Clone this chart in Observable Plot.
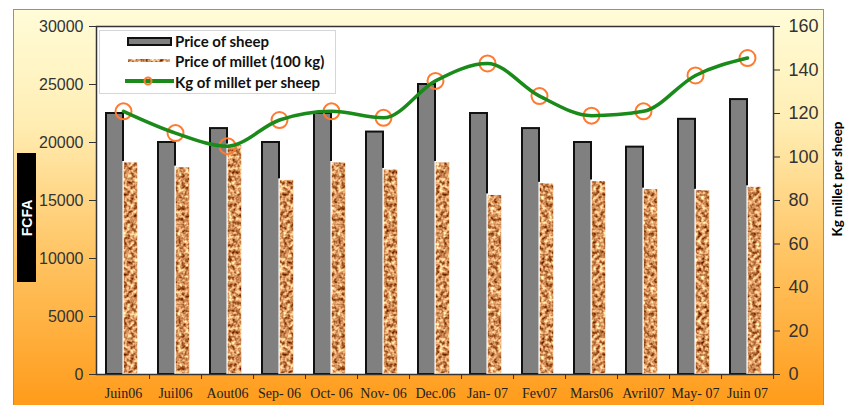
<!DOCTYPE html>
<html>
<head>
<meta charset="utf-8">
<script src="https://cdn.jsdelivr.net/npm/d3@7"></script>
<script src="https://cdn.jsdelivr.net/npm/@observablehq/plot@0.6"></script>
<style>
  html, body { margin: 0; padding: 0; background: #ffffff; }
  #wrap { position: relative; width: 853px; height: 405px; overflow: hidden; }
  #bg { position: absolute; left: 13px; top: 9px; width: 809px; height: 400px;
        border: 1px solid #a89060;
        background: linear-gradient(to bottom, #fffcd8 0%, #ffeeb4 28%, #ffc666 60%, #ff9a18 100%); }
  #chart { position: absolute; left: 0; top: 0; }
  #fcfa { position: absolute; left: 17px; top: 153px; width: 19px; height: 129px; background: #000; }
  #fcfa span { position: absolute; left: 50%; top: 50%; transform: translate(-50%, -50%) rotate(-90deg);
               color: #fff; font: bold 14px "Liberation Sans", Arial, sans-serif; white-space: nowrap; }
  #rlabel { position: absolute; left: 837px; top: 179px; transform: translate(-50%, -50%) rotate(-90deg);
            font: bold 13.5px Lato, "Liberation Sans", sans-serif; color: #000; white-space: nowrap; }
  #legend { position: absolute; left: 99px; top: 30px; width: 235px; height: 62px; background: #fff;
            border: 1px solid #d6d6d6; }
  .lrow { position: absolute; left: 75px; font: bold 15px Lato, "Liberation Sans", sans-serif; color: #111;
          white-space: nowrap; transform: translateY(-50%); }
  .lsw { position: absolute; }
</style>
</head>
<body>
<div id="wrap">
  <div id="bg"></div>
  <div id="chart"></div>
  <div id="fcfa"><span>FCFA</span></div>
  <div id="rlabel">Kg millet per sheep</div>
  <div id="legend">
    <svg class="lsw" style="left:26px;top:5px" width="48" height="12">
      <rect x="2" y="2" width="43" height="7" fill="#808080" stroke="#111" stroke-width="2"></rect>
    </svg>
    <div class="lrow" style="top:10px">Price of sheep</div>
    <svg class="lsw" style="left:27px;top:27px" width="46" height="6">
      <rect x="1" y="1" width="42" height="3" fill="url(#cork)"></rect>
    </svg>
    <div class="lrow" style="top:30px">Price of millet (100 kg)</div>
    <svg class="lsw" style="left:24px;top:44px" width="52" height="12">
      <line x1="1" y1="6" x2="50" y2="6" stroke="#1a8a1a" stroke-width="4"></line>
      <circle cx="24" cy="6" r="3.5" fill="none" stroke="#ff7a30" stroke-width="2"></circle>
    </svg>
    <div class="lrow" style="top:51px">Kg of millet per sheep</div>
  </div>
</div>
<script>
const months = ["Juin06", "Juil06", "Aout06", "Sep- 06", "Oct- 06", "Nov- 06", "Dec.06",
                "Jan- 07", "Fev07", "Mars06", "Avril07", "May- 07", "Juin 07"];
const sheepPrice = [22500, 20000, 21200, 20000, 22500, 20900, 25000, 22500, 21200, 20000, 19600, 22000, 23700];
const milletPrice = [18300, 17900, 19800, 16800, 18300, 17700, 18300, 15500, 16500, 16700, 16000, 15900, 16200];
const kgPerSheep = [121, 111, 105, 117, 121, 118, 135, 143, 128, 119, 121, 137.5, 145.5];
const leftTicks = [0, 5000, 10000, 15000, 20000, 25000, 30000];
const rightTicks = [0, 20, 40, 60, 80, 100, 120, 140, 160];

const data = months.map((m, i) => ({month: m, sheep: sheepPrice[i], millet: milletPrice[i], kg: kgPerSheep[i]}));
const K = 30000 / 160; // right-axis (kg) to left-axis (FCFA) conversion

const W = 853, H = 405, mL = 96, mR = 80, mT = 26, mB = 31;
const band = (W - mL - mR) / months.length;

const chart = Plot.plot({
  width: W, height: H,
  marginLeft: mL, marginRight: mR, marginTop: mT, marginBottom: mB,
  style: {background: "transparent", overflow: "visible", fontFamily: "Liberation Sans, Arial, sans-serif"},
  x: {domain: months, padding: 0, axis: null, label: null},
  y: {domain: [0, 30000], axis: null, label: null},
  marks: [
    Plot.frame({fill: "white"}),
    Plot.barY(data, {x: "month", y: "sheep", fill: "#808080", stroke: "#111", strokeWidth: 2,
                     insetLeft: 9, insetRight: 26}),
    Plot.barY(data, {x: "month", y: "millet", fill: "url(#cork)", stroke: "white", strokeWidth: 1.5,
                     insetLeft: 26, insetRight: 11}),
    Plot.dot(data, {x: "month", y: d => d.kg * K, r: 8, stroke: "#ff7a30", strokeWidth: 2, fill: "none"}),
    Plot.line(data, {x: "month", y: d => d.kg * K, stroke: "#1a8a1a", strokeWidth: 3.5, curve: "monotone-x"}),
    Plot.frame({stroke: "#333", strokeWidth: 1.5}),
    Plot.axisY({anchor: "left", ticks: leftTicks, tickFormat: d3.format("d"), tickSize: 7, tickPadding: 6,
                fontSize: 16, fill: "#333", stroke: "#333", label: null}),
    Plot.axisY({anchor: "right", ticks: rightTicks.map(t => t * K), tickFormat: d => String(Math.round(d / K)),
                tickSize: 6, tickPadding: 9, fontSize: 18, fill: "#333", stroke: "#333", label: null}),
    Plot.axisX({tickSize: 5, tickFormat: () => "", dx: band / 2, stroke: "#333", label: null}),
    Plot.axisX({tickSize: 0, tickPadding: 14, fontSize: 14, fontFamily: "Liberation Serif, Times New Roman, serif",
                fill: "#222", label: null})
  ]
});

chart.insertAdjacentHTML("afterbegin", `
<defs>
  <filter id="corkNoise" filterUnits="userSpaceOnUse" x="0" y="0" width="80" height="80" color-interpolation-filters="sRGB">
    <feTurbulence type="fractalNoise" baseFrequency="0.28" numOctaves="2" seed="7" stitchTiles="stitch"></feTurbulence>
    <feColorMatrix type="matrix" values="1.3 0 0 0 0.18  1.5 0 0 0 -0.18  1.4 0 0 0 -0.34  0 0 0 0 1"></feColorMatrix>
  </filter>
  <pattern id="cork" patternUnits="userSpaceOnUse" width="80" height="80">
    <rect width="80" height="80" fill="#cf915e"></rect>
    <rect width="80" height="80" filter="url(#corkNoise)"></rect>
  </pattern>
</defs>`);

document.getElementById("chart").appendChild(chart);
</script>
</body>
</html>
